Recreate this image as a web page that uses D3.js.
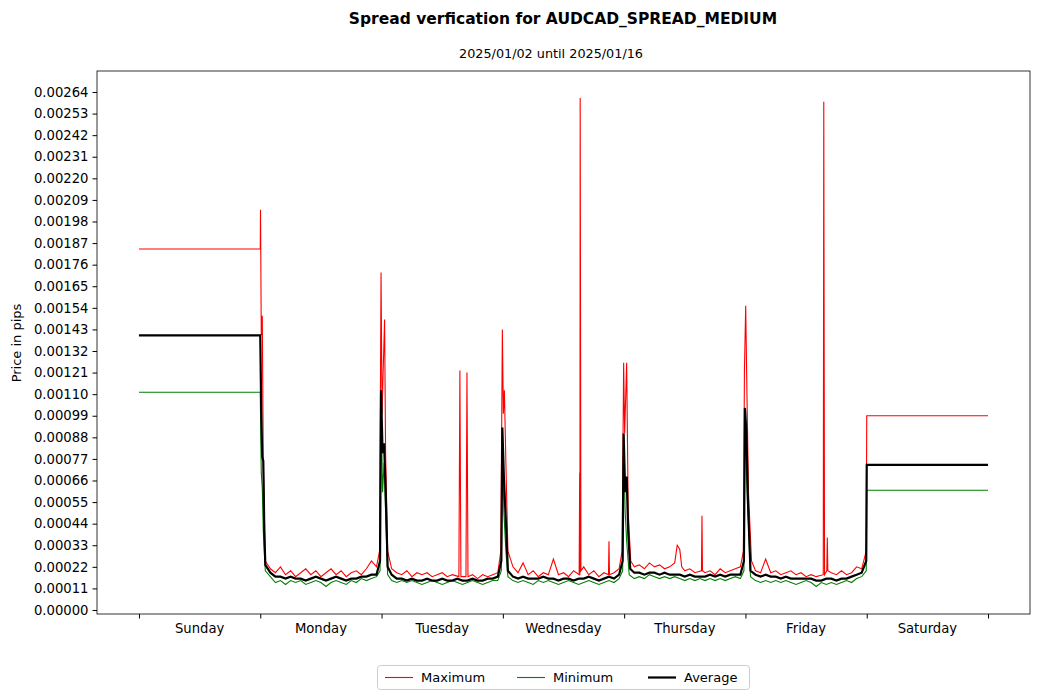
<!DOCTYPE html>
<html><head><meta charset="utf-8">
<script src="https://cdn.jsdelivr.net/npm/d3@7"></script>
<style>body{margin:0;background:#fff;font-family:"DejaVu Sans",sans-serif;}</style>
</head><body><svg id="c" width="1039" height="700"></svg>
<script>
const dayLabels=["Sunday","Monday","Tuesday","Wednesday","Thursday","Friday","Saturday"];
const yTicks=[0,0.00011,0.00022,0.00033,0.00044,0.00055,0.00066,0.00077,0.00088,0.00099,0.00110,0.00121,0.00132,0.00143,0.00154,0.00165,0.00176,0.00187,0.00198,0.00209,0.00220,0.00231,0.00242,0.00253,0.00264];
// [hour, value]
const maxSeries=[[0,0.00184],[24,0.00184],[24.05,0.00204],[24.2,0.00140],[24.4,0.00150],[24.6,0.00075],[25,0.00025],[26,0.00021],[27,0.00019],[28,0.00022],[29,0.00018],[30,0.00020],[31,0.00017],[32,0.00019],[33,0.00021],[34,0.00018],[35,0.00020],[36,0.00017],[37,0.00019],[38,0.00021],[39,0.00018],[40,0.00020],[41,0.00017],[42,0.00019],[43,0.00020],[44,0.00018],[45,0.00021],[46,0.00025],[47,0.00022],[47.6,0.00030],[47.9,0.00172],[48.1,0.00100],[48.3,0.00120],[48.6,0.00148],[48.8,0.00080],[49.2,0.00030],[50,0.00021],[51,0.00019],[52,0.00018],[53,0.00020],[54,0.00017],[55,0.00019],[56,0.00018],[57,0.00019],[58,0.00017],[59,0.00018],[60,0.00019],[61,0.00017],[62,0.00018],[63.3,0.00017],[63.5,0.00122],[63.7,0.00017],[64.7,0.00017],[64.9,0.00121],[65.1,0.00017],[66,0.00018],[67,0.00016],[68,0.00018],[69,0.00017],[70,0.00018],[71,0.00019],[71.6,0.00030],[71.9,0.00143],[72.1,0.00100],[72.3,0.00112],[72.6,0.00075],[73,0.00030],[74,0.00022],[75,0.00019],[76,0.00024],[77,0.00018],[78,0.00020],[79,0.00017],[80,0.00019],[81,0.00018],[82,0.00026],[83,0.00018],[84,0.00019],[85,0.00017],[86,0.00020],[87.1,0.00018],[87.2,0.00070],[87.25,0.00018],[87.3,0.00261],[87.45,0.00020],[88,0.00022],[89,0.00018],[90,0.00020],[91,0.00017],[92,0.00019],[92.9,0.00018],[93,0.00035],[93.1,0.00018],[94,0.00019],[95,0.00021],[95.6,0.00030],[95.9,0.00126],[96.1,0.00090],[96.5,0.00126],[96.8,0.00050],[97.3,0.00025],[98,0.00022],[99,0.00023],[100,0.00021],[101,0.00024],[102,0.00022],[103,0.00023],[104,0.00021],[105,0.00022],[106,0.00024],[106.5,0.00033],[107,0.00031],[107.4,0.00022],[108,0.00020],[109,0.00021],[110,0.00019],[111.3,0.00020],[111.4,0.00048],[111.5,0.00020],[112,0.00019],[113,0.00020],[114,0.00018],[115,0.00021],[116,0.00019],[117,0.00020],[118,0.00021],[119,0.00022],[119.6,0.00030],[119.8,0.00122],[120.05,0.00155],[120.3,0.00110],[120.6,0.00060],[121.2,0.00025],[122,0.00020],[123,0.00019],[124,0.00026],[125,0.00019],[126,0.00020],[127,0.00018],[128,0.00019],[129,0.00020],[130,0.00018],[131,0.00019],[132,0.00017],[133,0.00018],[134,0.00017],[135.4,0.00018],[135.5,0.00259],[135.65,0.00018],[136.1,0.00020],[136.2,0.00037],[136.3,0.00020],[137,0.00019],[138,0.00018],[139,0.00020],[140,0.00018],[141,0.00019],[142,0.00022],[143,0.00021],[143.9,0.00030],[144,0.00099],[168,0.00099]];
const minSeries=[[0,0.00111],[24,0.00111],[24.2,0.00070],[24.4,0.00062],[24.6,0.00040],[25,0.00020],[26,0.00017],[27,0.00014],[28,0.00015],[29,0.00013],[30,0.00015],[31,0.00014],[32,0.00015],[33,0.00013],[34,0.00014],[35,0.00015],[36,0.00014],[37,0.00012],[38,0.00014],[39,0.00015],[40,0.00014],[41,0.00013],[42,0.00015],[43,0.00014],[44,0.00016],[45,0.00015],[46,0.00016],[47,0.00017],[47.7,0.00020],[47.9,0.00105],[48.2,0.00060],[48.5,0.00075],[48.8,0.00050],[49.2,0.00018],[50,0.00015],[51,0.00014],[52,0.00015],[53,0.00014],[54,0.00015],[55,0.00014],[56,0.00013],[57,0.00014],[58,0.00015],[59,0.00014],[60,0.00013],[61,0.00014],[62,0.00015],[63,0.00014],[64,0.00013],[65,0.00014],[66,0.00015],[67,0.00014],[68,0.00013],[69,0.00014],[70,0.00015],[71,0.00015],[71.7,0.00020],[71.9,0.00090],[72.2,0.00050],[72.6,0.00030],[73,0.00017],[74,0.00015],[75,0.00014],[76,0.00015],[77,0.00014],[78,0.00013],[79,0.00015],[80,0.00014],[81,0.00015],[82,0.00014],[83,0.00013],[84,0.00014],[85,0.00015],[86,0.00014],[87,0.00013],[88,0.00014],[89,0.00015],[90,0.00014],[91,0.00013],[92,0.00014],[93,0.00015],[94,0.00014],[95,0.00016],[95.7,0.00020],[95.9,0.00085],[96.2,0.00050],[96.5,0.00035],[97,0.00018],[98,0.00016],[99,0.00017],[100,0.00016],[101,0.00018],[102,0.00017],[103,0.00016],[104,0.00017],[105,0.00016],[106,0.00017],[107,0.00016],[108,0.00015],[109,0.00016],[110,0.00015],[111,0.00016],[112,0.00015],[113,0.00016],[114,0.00015],[115,0.00016],[116,0.00015],[117,0.00016],[118,0.00017],[119,0.00016],[119.7,0.00020],[119.9,0.00098],[120.2,0.00070],[120.5,0.00050],[121,0.00017],[122,0.00015],[123,0.00014],[124,0.00015],[125,0.00014],[126,0.00015],[127,0.00014],[128,0.00015],[129,0.00014],[130,0.00013],[131,0.00014],[132,0.00015],[133,0.00014],[134,0.00012],[135,0.00014],[136,0.00013],[137,0.00014],[138,0.00013],[139,0.00014],[140,0.00015],[141,0.00014],[142,0.00016],[143,0.00017],[143.9,0.00020],[144,0.00061],[168,0.00061]];
const avgSeries=[[0,0.00140],[24,0.00140],[24.2,0.00100],[24.4,0.00078],[24.6,0.00076],[24.8,0.00040],[25,0.00023],[26,0.00019],[27,0.00017],[28,0.00017],[29,0.00016],[30,0.00017],[31,0.00016],[32,0.00016],[33,0.00015],[34,0.00016],[35,0.00017],[36,0.00016],[37,0.00015],[38,0.00016],[39,0.00017],[40,0.00016],[41,0.00015],[42,0.00016],[43,0.00016],[44,0.00017],[45,0.00017],[46,0.00018],[47,0.00018],[47.7,0.00025],[47.9,0.00112],[48.2,0.00080],[48.5,0.00085],[48.8,0.00062],[49.2,0.00022],[50,0.00018],[51,0.00016],[52,0.00016],[53,0.00015],[54,0.00016],[55,0.00015],[56,0.00015],[57,0.00016],[58,0.00015],[59,0.00015],[60,0.00016],[61,0.00015],[62,0.00015],[63,0.00016],[64,0.00015],[65,0.00015],[66,0.00016],[67,0.00015],[68,0.00015],[69,0.00016],[70,0.00016],[71,0.00017],[71.7,0.00025],[71.9,0.00093],[72.2,0.00068],[72.6,0.00045],[73,0.00020],[74,0.00017],[75,0.00016],[76,0.00017],[77,0.00016],[78,0.00016],[79,0.00016],[80,0.00017],[81,0.00016],[82,0.00016],[83,0.00015],[84,0.00016],[85,0.00016],[86,0.00015],[87,0.00016],[88,0.00016],[89,0.00017],[90,0.00016],[91,0.00015],[92,0.00016],[93,0.00017],[94,0.00016],[95,0.00018],[95.7,0.00025],[95.9,0.00090],[96.2,0.00060],[96.5,0.00068],[96.8,0.00040],[97.2,0.00021],[98,0.00019],[99,0.00019],[100,0.00018],[101,0.00019],[102,0.00019],[103,0.00018],[104,0.00019],[105,0.00018],[106,0.00018],[107,0.00018],[108,0.00017],[109,0.00018],[110,0.00017],[111,0.00017],[112,0.00017],[113,0.00018],[114,0.00017],[115,0.00018],[116,0.00017],[117,0.00018],[118,0.00018],[119,0.00018],[119.7,0.00025],[119.9,0.00103],[120.2,0.00090],[120.5,0.00055],[121,0.00020],[122,0.00018],[123,0.00017],[124,0.00018],[125,0.00017],[126,0.00017],[127,0.00016],[128,0.00017],[129,0.00016],[130,0.00016],[131,0.00016],[132,0.00016],[133,0.00016],[134,0.00015],[135,0.00015],[136,0.00016],[137,0.00016],[138,0.00015],[139,0.00016],[140,0.00016],[141,0.00017],[142,0.00018],[143,0.00019],[143.9,0.00025],[144,0.00074],[168,0.00074]];

const svg=d3.select("#c");
const L=97,R=1030,T=71,B=614;
const x=d3.scaleLinear().domain([-0.346*24,168+0.346*24]).range([L,R]);
const y=d3.scaleLinear().domain([-0.0000204,0.002747]).range([B,T]);
svg.append("rect").attr("x",L).attr("y",T).attr("width",R-L).attr("height",B-T).attr("fill","none").attr("stroke","#000").attr("stroke-width",0.8);
const ya=svg.append("g").attr("transform",`translate(${L},0)`).call(d3.axisLeft(y).tickValues(yTicks).tickFormat(d3.format(".5f")).tickSizeOuter(0).tickSize(4.5).tickPadding(4));
ya.select(".domain").remove();
ya.selectAll("text").attr("font-size",13.2).attr("fill","#000").attr("font-family","DejaVu Sans");
const xa=svg.append("g").attr("transform",`translate(0,${B})`).call(d3.axisBottom(x).tickValues(d3.range(0,169,24)).tickFormat("").tickSizeOuter(0).tickSize(4.5));
xa.select(".domain").remove();
dayLabels.forEach((d,i)=>svg.append("text").attr("x",x(i*24+12)).attr("y",633).attr("text-anchor","middle").attr("font-size",13.2).text(d));
svg.append("text").attr("x",563).attr("y",24).attr("text-anchor","middle").attr("font-size",15.5).attr("font-weight","bold").text("Spread verfication for AUDCAD_SPREAD_MEDIUM");
svg.append("text").attr("x",551).attr("y",58).attr("text-anchor","middle").attr("font-size",12.8).text("2025/01/02 until 2025/01/16");
svg.append("text").attr("transform","translate(21,343) rotate(-90)").attr("text-anchor","middle").attr("font-size",13).text("Price in pips");
const line=d3.line().x(d=>x(d[0])).y(d=>y(d[1]));
svg.append("path").datum(maxSeries).attr("d",line).attr("fill","none").attr("stroke","red").attr("stroke-width",1.1);
svg.append("path").datum(minSeries).attr("d",line).attr("fill","none").attr("stroke","green").attr("stroke-width",1.1);
svg.append("path").datum(avgSeries).attr("d",line).attr("fill","none").attr("stroke","black").attr("stroke-width",2.2);
const lg=svg.append("g");
lg.append("rect").attr("x",377.5).attr("y",665.5).attr("width",372).attr("height",24).attr("rx",3).attr("fill","#fff").attr("stroke","#ccc");
[["Maximum","red",1.1,385],["Minimum","green",1.1,517],["Average","black",2.2,648]].forEach(([t,c,w,lx])=>{
 lg.append("line").attr("x1",lx).attr("x2",lx+28).attr("y1",677.5).attr("y2",677.5).attr("stroke",c).attr("stroke-width",w);
 lg.append("text").attr("x",lx+36).attr("y",682).attr("font-size",13).text(t);
});
</script></body></html>
